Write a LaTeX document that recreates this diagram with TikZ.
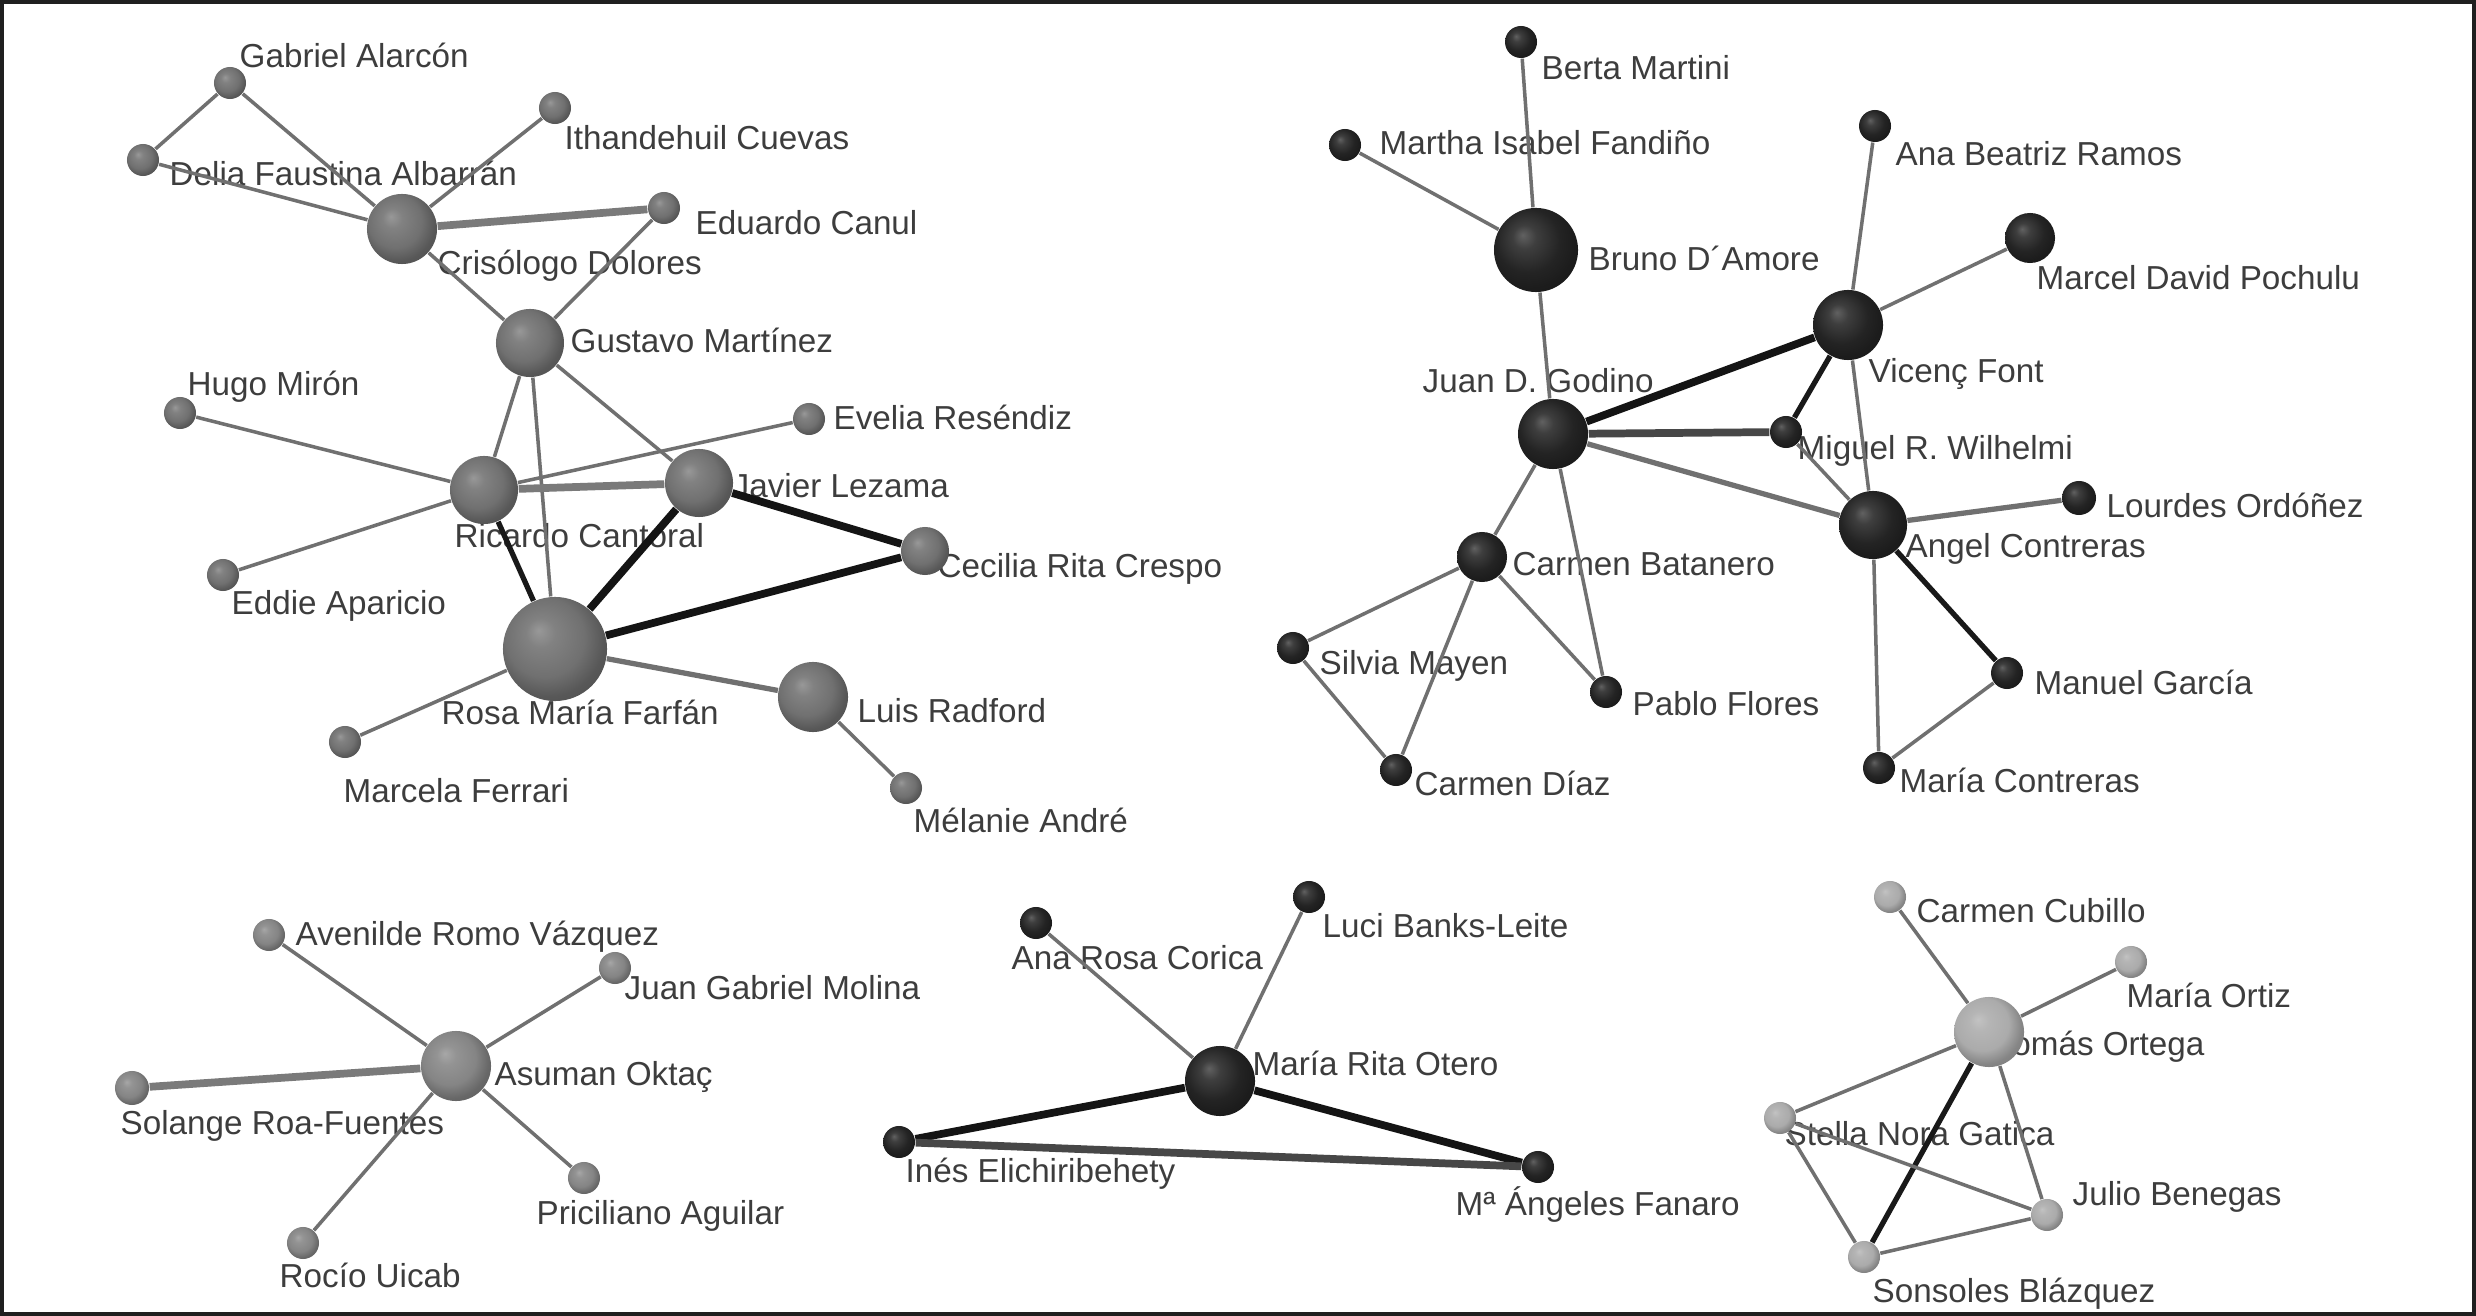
\documentclass[tikz,border=0pt]{standalone}
\usepackage{fontspec}
\setmainfont{Liberation Sans}
\pgfdeclarelayer{bgl}
\pgfdeclarelayer{lab}
\pgfdeclarelayer{edg}
\pgfsetlayers{bgl,lab,edg,main}
\colorlet{sphc}{gray}
\pgfdeclareradialshading[sphc]{sph}{\pgfqpoint{-8bp}{9bp}}{%
  color(0bp)=(sphc!72!white);
  color(7bp)=(sphc!88!white);
  color(19bp)=(sphc);
  color(27bp)=(sphc!78!black);
  color(50bp)=(sphc!55!black)}
\tikzset{
  sph color/.code={\colorlet{sphc}{#1}\tikzset{shading=sph}},
  nd/.style={circle,inner sep=0pt,minimum size=#1*0.02cm},
  cA/.style={sph color=black!56},
  cB/.style={sph color=black!86},
  cC/.style={sph color=black!48},
  cD/.style={sph color=black!86},
  cE/.style={sph color=black!33},
  lb/.style={anchor=mid west,inner sep=0pt,yshift=-1pt,text=black!76,
    font=\fontsize{9.45}{11}\selectfont},
  et/.style={draw=black!56,line width=1pt},
  em/.style={draw=black!56,line width=1.5pt},
  eg/.style={draw=black!52,line width=2.2pt},
  ed/.style={draw=black!72,line width=2.2pt},
  ek/.style={draw=black!92,line width=2.2pt},
  ekm/.style={draw=black!90,line width=1.5pt},
}
\begin{document}
\begin{tikzpicture}[x=0.01cm,y=-0.01cm]
\useasboundingbox (0,0) rectangle (2476,1316);
\begin{pgfonlayer}{bgl}
\fill[black!88] (0,0) rectangle (2476,1316);
\fill[white] (4,4) rectangle (2472,1312);
\end{pgfonlayer}

% ---------------- cluster A (top left)
\node[nd=16,cA] (gab) at (230,83) {};
\node[nd=16,cA] (del) at (143,160) {};
\node[nd=16,cA] (ith) at (555,108) {};
\node[nd=16,cA] (edu) at (664,208) {};
\node[nd=35,cA] (cri) at (402,229) {};
\node[nd=34,cA] (gus) at (530,343) {};
\node[nd=16,cA] (hug) at (180,413) {};
\node[nd=16,cA] (eve) at (809,419) {};
\node[nd=34,cA] (ric) at (484,490) {};
\node[nd=34,cA] (jav) at (699,483) {};
\node[nd=24,cA] (cec) at (925,551) {};
\node[nd=16,cA] (edd) at (223,575) {};
\node[nd=52,cA] (ros) at (555,649) {};
\node[nd=35,cA] (lui) at (813,697) {};
\node[nd=16,cA] (mcf) at (345,742) {};
\node[nd=16,cA] (mel) at (906,788) {};

% ---------------- cluster B (top right)
\node[nd=16,cB] (ber) at (1521,42) {};
\node[nd=16,cB] (mth) at (1345,145) {};
\node[nd=42,cB] (bru) at (1536,250) {};
\node[nd=16,cB] (ana) at (1875,126) {};
\node[nd=25,cB] (mcl) at (2030,238) {};
\node[nd=35,cB] (vic) at (1848,325) {};
\node[nd=35,cB] (jua) at (1553,434) {};
\node[nd=16,cB] (mig) at (1786,432) {};
\node[nd=34,cB] (ang) at (1873,525) {};
\node[nd=17,cB] (lou) at (2079,498) {};
\node[nd=25,cB] (cba) at (1482,557) {};
\node[nd=16,cB] (sil) at (1293,648) {};
\node[nd=16,cB] (pab) at (1606,692) {};
\node[nd=16,cB] (cdi) at (1396,770) {};
\node[nd=16,cB] (man) at (2007,673) {};
\node[nd=16,cB] (mco) at (1879,768) {};

% ---------------- cluster C (bottom left)
\node[nd=16,cC] (ave) at (269,935) {};
\node[nd=16,cC] (jgm) at (615,968) {};
\node[nd=35,cC] (asu) at (456,1066) {};
\node[nd=17,cC] (sol) at (132,1088) {};
\node[nd=16,cC] (pri) at (584,1178) {};
\node[nd=16,cC] (roc) at (303,1243) {};

% ---------------- cluster D (bottom middle)
\node[nd=16,cD] (arc) at (1036,923) {};
\node[nd=16,cD] (luc) at (1309,897) {};
\node[nd=35,cD] (mro) at (1220,1081) {};
\node[nd=16,cD] (ine) at (899,1142) {};
\node[nd=16,cD] (fan) at (1538,1167) {};

% ---------------- cluster E (bottom right)
\node[nd=16,cE] (cub) at (1890,897) {};
\node[nd=16,cE] (ort) at (2131,962) {};
\node[nd=35,cE] (tom) at (1989,1032) {};
\node[nd=16,cE] (ste) at (1780,1118) {};
\node[nd=16,cE] (jul) at (2047,1215) {};
\node[nd=16,cE] (son) at (1864,1257) {};

% ---------------- labels
\begin{pgfonlayer}{lab}
\node[lb] (gab-l) at (239,55) {Gabriel Alarcón};
\node[lb] (del-l) at (169,173) {Delia Faustina Albarrán};
\node[lb] (ith-l) at (564,137) {Ithandehuil Cuevas};
\node[lb] (edu-l) at (695,222) {Eduardo Canul};
\node[lb] (cri-l) at (437,262) {Crisólogo Dolores};
\node[lb] (gus-l) at (570,340) {Gustavo Martínez};
\node[lb] (hug-l) at (187,383) {Hugo Mirón};
\node[lb] (eve-l) at (833,417) {Evelia Reséndiz};
\node[lb] (ric-l) at (454,535) {Ricardo Cantoral};
\node[lb] (jav-l) at (732,485) {Javier Lezama};
\node[lb] (cec-l) at (937,565) {Cecilia Rita Crespo};
\node[lb] (edd-l) at (231,602) {Eddie Aparicio};
\node[lb] (ros-l) at (441,712) {Rosa María Farfán};
\node[lb] (lui-l) at (857,710) {Luis Radford};
\node[lb] (mcf-l) at (343,790) {Marcela Ferrari};
\node[lb] (mel-l) at (913,820) {Mélanie André};

\node[lb] (ber-l) at (1541,67) {Berta Martini};
\node[lb] (mth-l) at (1379,142) {Martha Isabel Fandiño};
\node[lb] (bru-l) at (1588,258) {Bruno D´Amore};
\node[lb] (ana-l) at (1895,153) {Ana Beatriz Ramos};
\node[lb] (mcl-l) at (2036,277) {Marcel David Pochulu};
\node[lb] (vic-l) at (1868,370) {Vicenç Font};
\node[lb] (jua-l) at (1422,380) {Juan D. Godino};
\node[lb] (mig-l) at (1797,447) {Miguel R. Wilhelmi};
\node[lb] (ang-l) at (1905,545) {Angel Contreras};
\node[lb] (lou-l) at (2106,505) {Lourdes Ordóñez};
\node[lb] (cba-l) at (1512,563) {Carmen Batanero};
\node[lb] (sil-l) at (1319,662) {Silvia Mayen};
\node[lb] (pab-l) at (1632,703) {Pablo Flores};
\node[lb] (cdi-l) at (1414,783) {Carmen Díaz};
\node[lb] (man-l) at (2034,682) {Manuel García};
\node[lb] (mco-l) at (1899,780) {María Contreras};

\node[lb] (ave-l) at (295,933) {Avenilde Romo Vázquez};
\node[lb] (jgm-l) at (624,987) {Juan Gabriel Molina};
\node[lb] (asu-l) at (494,1073) {Asuman Oktaç};
\node[lb] (sol-l) at (120,1122) {Solange Roa-Fuentes};
\node[lb] (pri-l) at (536,1212) {Priciliano Aguilar};
\node[lb] (roc-l) at (279,1275) {Rocío Uicab};

\node[lb] (arc-l) at (1011,957) {Ana Rosa Corica};
\node[lb] (luc-l) at (1322,925) {Luci Banks-Leite};
\node[lb] (mro-l) at (1252,1063) {María Rita Otero};
\node[lb] (ine-l) at (905,1170) {Inés Elichiribehety};
\node[lb] (fan-l) at (1455,1203) {Mª Ángeles Fanaro};

\node[lb] (cub-l) at (1916,910) {Carmen Cubillo};
\node[lb] (ort-l) at (2126,995) {María Ortiz};
\node[lb] (tom-l) at (1995,1043) {Tomás Ortega};
\node[lb] (ste-l) at (1784,1133) {Stella Nora Gatica};
\node[lb] (jul-l) at (2072,1193) {Julio Benegas};
\node[lb] (son-l) at (1872,1290) {Sonsoles Blázquez};
\end{pgfonlayer}

% ---------------- edges
\begin{pgfonlayer}{edg}
\draw[et] (gab) -- (del);
\draw[et] (gab) -- (cri);
\draw[et] (del) -- (cri);
\draw[et] (ith) -- (cri);
\draw[eg] (edu) -- (cri);
\draw[et] (edu) -- (gus);
\draw[et] (cri) -- (gus);
\draw[et] (gus) -- (ric);
\draw[et] (gus) -- (ros);
\draw[et] (gus) -- (jav);
\draw[et] (hug) -- (ric);
\draw[et] (ric) -- (eve);
\draw[eg] (ric) -- (jav);
\draw[et] (ric) -- (edd);
\draw[ekm] (ric) -- (ros);
\draw[ek] (jav) -- (ros);
\draw[ek] (jav) -- (cec);
\draw[ek] (cec) -- (ros);
\draw[em] (ros) -- (lui);
\draw[et] (ros) -- (mcf);
\draw[et] (lui) -- (mel);

\draw[et] (ber) -- (bru);
\draw[et] (mth) -- (bru);
\draw[et] (bru) -- (jua);
\draw[et] (ana) -- (vic);
\draw[et] (mcl) -- (vic);
\draw[ek] (vic) -- (jua);
\draw[ekm] (vic) -- (mig);
\draw[ed] (jua) -- (mig);
\draw[em] (jua) -- (ang);
\draw[et] (jua) -- (cba);
\draw[et] (jua) -- (pab);
\draw[et] (mig) -- (ang);
\draw[et] (vic) -- (ang);
\draw[em] (ang) -- (lou);
\draw[ekm] (ang) -- (man);
\draw[et] (ang) -- (mco);
\draw[et] (man) -- (mco);
\draw[et] (cba) -- (sil);
\draw[et] (cba) -- (pab);
\draw[et] (cba) -- (cdi);
\draw[et] (sil) -- (cdi);

\draw[et] (ave) -- (asu);
\draw[et] (jgm) -- (asu);
\draw[eg] (sol) -- (asu);
\draw[et] (pri) -- (asu);
\draw[et] (roc) -- (asu);

\draw[et] (arc) -- (mro);
\draw[et] (luc) -- (mro);
\draw[ek] (mro) -- (ine);
\draw[ek] (mro) -- (fan);
\draw[ed] (ine) -- (fan);

\draw[et] (cub) -- (tom);
\draw[et] (ort) -- (tom);
\draw[et] (tom) -- (ste);
\draw[ekm] (tom) -- (son);
\draw[et] (tom) -- (jul);
\draw[et] (ste) -- (jul);
\draw[et] (ste) -- (son);
\draw[et] (son) -- (jul);
\end{pgfonlayer}
\end{tikzpicture}
\end{document}
